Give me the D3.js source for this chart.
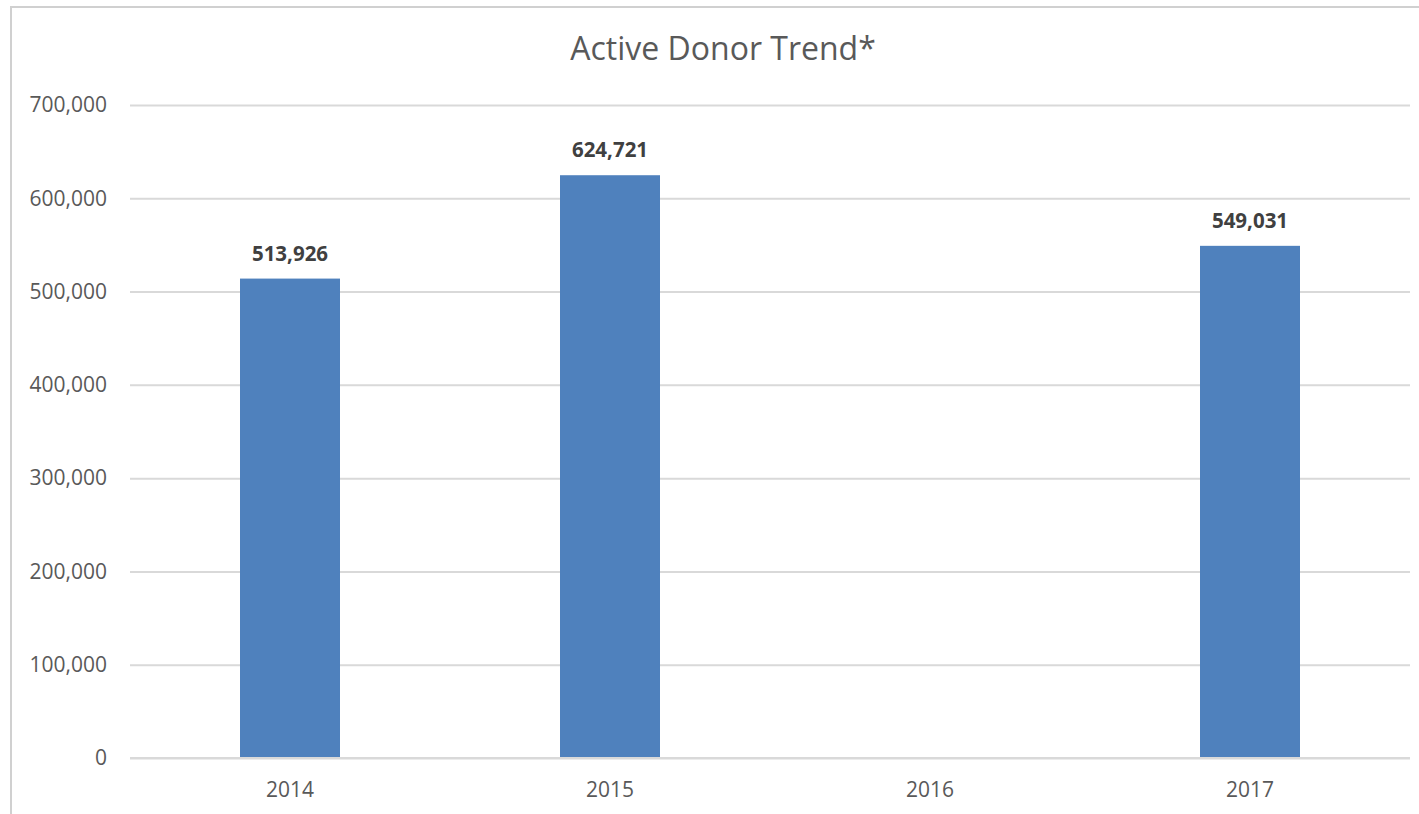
<!DOCTYPE html>
<html lang="en">
<head>
    <meta charset="UTF-8">
    <title>Active Donor Trend</title>
    <script src="https://d3js.org/d3.v7.min.js"></script>
    <style>
        body {
            margin: 0;
            background-color: white;
            font-family: "Open Sans", Arial, sans-serif;
            overflow: hidden;
        }
        .grid line {
            stroke: #d9d9d9;
            stroke-width: 2;
        }
        .grid path {
            display: none;
        }
    </style>
</head>
<body>
    <div id="chart"></div>

    <script>
        // chart data
        const years = ["2014", "2015", "2016", "2017"];
        const donors = [513926, 624721, null, 549031];
        const yTicks = [0, 100000, 200000, 300000, 400000, 500000, 600000, 700000];

        const width = 1419;
        const height = 814;
        const margin = { top: 105, right: 9, bottom: 56, left: 130 };
        const chartWidth = width - margin.left - margin.right;
        const chartHeight = height - margin.top - margin.bottom;

        const svg = d3.select("#chart").append("svg")
            .attr("width", width)
            .attr("height", height);

        // outer chart border (extends past the right/bottom edges)
        svg.append("rect")
            .attr("x", 11)
            .attr("y", 7)
            .attr("width", 1500)
            .attr("height", 1000)
            .attr("fill", "none")
            .attr("stroke", "#d0d0d0")
            .attr("stroke-width", 2);

        svg.append("text")
            .attr("x", 723)
            .attr("y", 60)
            .attr("text-anchor", "middle")
            .style("font-size", "32px")
            .style("fill", "#595959")
            .text("Active Donor Trend*");

        const g = svg.append("g")
            .attr("transform", `translate(${margin.left}, ${margin.top})`);

        const x = d3.scaleBand()
            .domain(years)
            .range([0, chartWidth])
            .paddingInner(0.6875)
            .paddingOuter(0.34375);

        const y = d3.scaleLinear()
            .domain([0, 700000])
            .range([chartHeight, 0]);

        // gridlines
        g.append("g")
            .attr("class", "grid")
            .call(d3.axisLeft(y).tickValues(yTicks).tickSize(-chartWidth).tickFormat(""));

        // y labels
        g.selectAll(".ylab")
            .data(yTicks)
            .enter().append("text")
            .attr("class", "ylab")
            .attr("x", -23)
            .attr("y", d => y(d))
            .attr("dy", "0.35em")
            .attr("text-anchor", "end")
            .style("font-size", "21px")
            .style("fill", "#595959")
            .text(d => d3.format(",")(d));

        const bars = years.map((yr, i) => ({ year: yr, value: donors[i] })).filter(d => d.value != null);

        g.selectAll(".bar")
            .data(bars)
            .enter().append("rect")
            .attr("class", "bar")
            .attr("x", d => x(d.year))
            .attr("y", d => y(d.value))
            .attr("width", x.bandwidth())
            .attr("height", d => chartHeight - y(d.value))
            .attr("fill", "#4f81bd");

        // baseline over the bars
        g.append("line")
            .attr("x1", 0)
            .attr("x2", chartWidth)
            .attr("y1", chartHeight)
            .attr("y2", chartHeight)
            .attr("stroke", "#d9d9d9")
            .attr("stroke-width", 2);

        // data labels
        g.selectAll(".val")
            .data(bars)
            .enter().append("text")
            .attr("class", "val")
            .attr("x", d => x(d.year) + x.bandwidth() / 2)
            .attr("y", d => y(d.value) - 18)
            .attr("text-anchor", "middle")
            .style("font-size", "20.5px")
            .style("font-weight", "bold")
            .style("fill", "#404040")
            .text(d => d3.format(",")(d.value));

        // x labels
        g.selectAll(".xlab")
            .data(years)
            .enter().append("text")
            .attr("class", "xlab")
            .attr("x", d => x(d) + x.bandwidth() / 2)
            .attr("y", chartHeight + 39)
            .attr("text-anchor", "middle")
            .style("font-size", "21px")
            .style("fill", "#595959")
            .text(d => d);
    </script>
</body>
</html>
